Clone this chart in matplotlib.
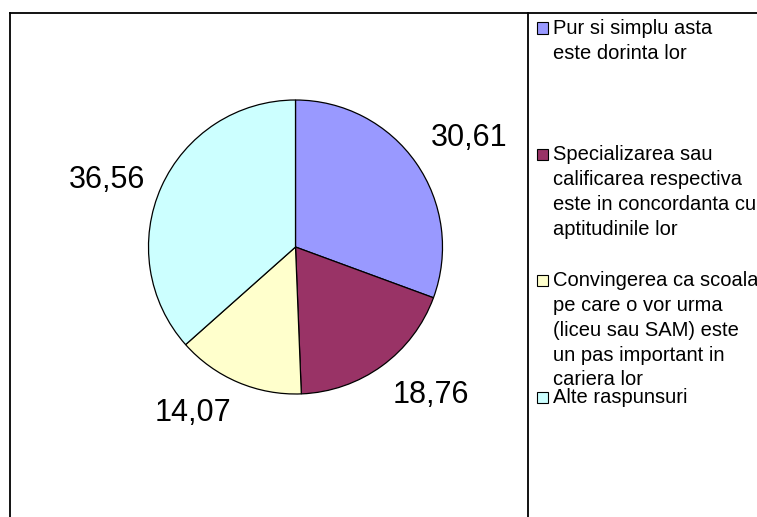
import numpy as np
import matplotlib
matplotlib.use("Agg")
import matplotlib.pyplot as plt
from matplotlib.lines import Line2D
from matplotlib.patches import Rectangle

plt.rcParams['font.family'] = ['Liberation Sans', 'DejaVu Sans']

# data
values = [30.61, 18.76, 14.07, 36.56]
legend_labels = [
    "Pur si simplu asta\neste dorinta lor",
    "Specializarea sau\ncalificarea respectiva\neste in concordanta cu\naptitudinile lor",
    "Convingerea ca scoala\npe care o vor urma\n(liceu sau SAM) este\nun pas important in\ncariera lor",
    "Alte raspunsuri",
]
colors = ['#9999FF', '#993366', '#FFFFCC', '#CCFFFF']

W, H = 757, 517
fig = plt.figure(figsize=(W / 100, H / 100), dpi=100)

# pie axes (pixel box -> figure fraction)
cx, cy, r = 295.5, 247, 147
ax = fig.add_axes([(cx - r) / W, (H - cy - r) / H, 2 * r / W, 2 * r / H])
labels = [f"{v:.2f}".replace('.', ',') for v in values]
wedges, texts = ax.pie(values, colors=colors, startangle=90, counterclock=False,
                       labels=labels, labeldistance=1.12, radius=1,
                       wedgeprops=dict(edgecolor='black', linewidth=0.9),
                       textprops=dict(fontsize=22))
for t in texts:
    x, y = t.get_position()
    ang = np.arctan2(y, x)
    t.set_ha('left' if np.cos(ang) > 0 else 'right')
    s = np.sin(ang)
    if abs(s) < 0.5:
        t.set_va('center')
    else:
        t.set_va('bottom' if s > 0 else 'top')
ax.set_xlim(-1, 1)
ax.set_ylim(-1, 1)
ax.set_aspect('equal')
ax.axis('off')

# chart frame and legend frame
def px(x, y):
    return x / W, 1 - y / H

lw = 1.3
fig.add_artist(Line2D(*zip(px(10, 13), px(W + 5, 13)), color='black', lw=lw))
fig.add_artist(Line2D(*zip(px(10, 13), px(10, H + 5)), color='black', lw=lw))
fig.add_artist(Line2D(*zip(px(528, 13), px(528, H + 5)), color='black', lw=lw))

# legend entries (first-line centres in px)
entry_y = [28, 154, 280, 397]
for lab, col, ey in zip(legend_labels, colors, entry_y):
    x0, y0 = px(537, ey + 5.5)
    fig.add_artist(Rectangle((x0, y0), 11 / W, 11 / H, facecolor=col,
                             edgecolor='black', linewidth=0.8,
                             transform=fig.transFigure))
    tx, ty = px(553, ey - 9)
    fig.text(tx, ty, lab, fontsize=14.5, va='top', ha='left', linespacing=1.39)

fig.savefig('out.png', dpi=100)
